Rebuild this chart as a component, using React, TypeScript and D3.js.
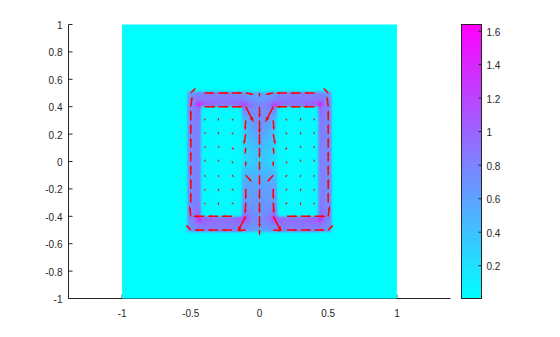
import React, { useMemo } from 'react';
import * as d3 from 'd3';

const W = 560;
const H = 337;

// axis ticks
const xTicks = [-1, -0.5, 0, 0.5, 1];
const yTicks = [-1, -0.8, -0.6, -0.4, -0.2, 0, 0.2, 0.4, 0.6, 0.8, 1];
const cbTicks = [0.2, 0.4, 0.6, 0.8, 1, 1.2, 1.4, 1.6];
const colorMin = 0.004;
const colorMax = 1.64;
const backgroundSpeed = 0.01;

// speed field (pcolor) sampled on a non-uniform grid
const gridX = [-0.56, -0.535, -0.515, -0.47, -0.44, -0.415, -0.3, -0.2, -0.14, -0.115, -0.06, 0, 0.06, 0.115, 0.14, 0.2, 0.3, 0.415, 0.44, 0.47, 0.515, 0.535, 0.56];
const gridY = [0.56, 0.52, 0.5, 0.45, 0.415, 0.39, 0.3, 0.2, 0.1, 0, -0.1, -0.2, -0.3, -0.39, -0.415, -0.46, -0.505, -0.525, -0.56];
const speedRow00 = [0.01, 0.01, 0.01, 0.01, 0.01, 0.01, 0.01, 0.01, 0.01, 0.01, 0.01, 0.01, 0.01, 0.01, 0.01, 0.01, 0.01, 0.01, 0.01, 0.01, 0.01, 0.01, 0.01];
const speedRow01 = [0.01, 0.01, 0.01, 0.01, 0.01, 0.01, 0.01, 0.01, 0.01, 0.01, 0.01, 0.01, 0.01, 0.01, 0.01, 0.01, 0.01, 0.01, 0.01, 0.01, 0.01, 0.01, 0.01];
const speedRow02 = [0.01, 0.01, 0.6, 0.7, 0.75, 0.78, 0.8, 0.78, 0.72, 0.65, 0.55, 0.5, 0.55, 0.65, 0.72, 0.78, 0.8, 0.78, 0.75, 0.7, 0.6, 0.01, 0.01];
const speedRow03 = [0.01, 0.01, 0.72, 0.82, 0.9, 0.9, 0.86, 0.85, 0.85, 0.8, 0.7, 0.65, 0.7, 0.8, 0.85, 0.85, 0.86, 0.9, 0.9, 0.82, 0.72, 0.01, 0.01];
const speedRow04 = [0.01, 0.01, 0.75, 0.9, 1.6, 1.1, 0.95, 0.95, 1.05, 1.25, 0.85, 0.75, 0.85, 1.25, 1.05, 0.95, 0.95, 1.1, 1.6, 0.9, 0.75, 0.01, 0.01];
const speedRow05 = [0.01, 0.01, 0.75, 0.85, 1.0, 0.06, 0.04, 0.04, 0.06, 0.9, 0.78, 0.72, 0.78, 0.9, 0.06, 0.04, 0.04, 0.06, 1.0, 0.85, 0.75, 0.01, 0.01];
const speedRow06 = [0.01, 0.01, 0.72, 0.82, 0.85, 0.05, 0.03, 0.03, 0.05, 0.4, 0.65, 0.75, 0.65, 0.4, 0.05, 0.03, 0.03, 0.05, 0.85, 0.82, 0.72, 0.01, 0.01];
const speedRow07 = [0.01, 0.01, 0.72, 0.8, 0.82, 0.05, 0.03, 0.03, 0.05, 0.3, 0.52, 0.62, 0.52, 0.3, 0.05, 0.03, 0.03, 0.05, 0.82, 0.8, 0.72, 0.01, 0.01];
const speedRow08 = [0.01, 0.01, 0.72, 0.8, 0.82, 0.05, 0.03, 0.03, 0.05, 0.22, 0.38, 0.45, 0.38, 0.22, 0.05, 0.03, 0.03, 0.05, 0.82, 0.8, 0.72, 0.01, 0.01];
const speedRow09 = [0.01, 0.01, 0.72, 0.8, 0.82, 0.05, 0.03, 0.03, 0.05, 0.2, 0.3, 0.35, 0.3, 0.2, 0.05, 0.03, 0.03, 0.05, 0.82, 0.8, 0.72, 0.01, 0.01];
const speedRow10 = [0.01, 0.01, 0.72, 0.8, 0.82, 0.05, 0.03, 0.03, 0.05, 0.45, 0.5, 0.52, 0.5, 0.45, 0.05, 0.03, 0.03, 0.05, 0.82, 0.8, 0.72, 0.01, 0.01];
const speedRow11 = [0.01, 0.01, 0.72, 0.8, 0.82, 0.05, 0.03, 0.03, 0.05, 0.6, 0.62, 0.62, 0.62, 0.6, 0.05, 0.03, 0.03, 0.05, 0.82, 0.8, 0.72, 0.01, 0.01];
const speedRow12 = [0.01, 0.01, 0.72, 0.82, 0.85, 0.05, 0.03, 0.03, 0.05, 0.65, 0.66, 0.66, 0.66, 0.65, 0.05, 0.03, 0.03, 0.05, 0.85, 0.82, 0.72, 0.01, 0.01];
const speedRow13 = [0.01, 0.01, 0.75, 0.85, 1.0, 0.06, 0.04, 0.04, 0.06, 0.95, 0.75, 0.68, 0.75, 0.95, 0.06, 0.04, 0.04, 0.06, 1.0, 0.85, 0.75, 0.01, 0.01];
const speedRow14 = [0.01, 0.01, 0.75, 0.9, 1.5, 1.1, 0.95, 0.95, 1.05, 1.3, 0.82, 0.72, 0.82, 1.3, 1.05, 0.95, 0.95, 1.1, 1.5, 0.9, 0.75, 0.01, 0.01];
const speedRow15 = [0.01, 0.01, 0.72, 0.82, 0.9, 0.9, 0.88, 0.88, 0.88, 0.85, 0.75, 0.7, 0.75, 0.85, 0.88, 0.88, 0.88, 0.9, 0.9, 0.82, 0.72, 0.01, 0.01];
const speedRow16 = [0.01, 0.01, 0.6, 0.7, 0.75, 0.78, 0.8, 0.8, 0.75, 0.7, 0.6, 0.55, 0.6, 0.7, 0.75, 0.8, 0.8, 0.78, 0.75, 0.7, 0.6, 0.01, 0.01];
const speedRow17 = [0.01, 0.01, 0.01, 0.01, 0.01, 0.01, 0.01, 0.01, 0.01, 0.01, 0.01, 0.01, 0.01, 0.01, 0.01, 0.01, 0.01, 0.01, 0.01, 0.01, 0.01, 0.01, 0.01];
const speedRow18 = [0.01, 0.01, 0.01, 0.01, 0.01, 0.01, 0.01, 0.01, 0.01, 0.01, 0.01, 0.01, 0.01, 0.01, 0.01, 0.01, 0.01, 0.01, 0.01, 0.01, 0.01, 0.01, 0.01];
const speed = [speedRow00, speedRow01, speedRow02, speedRow03, speedRow04, speedRow05, speedRow06, speedRow07, speedRow08, speedRow09, speedRow10, speedRow11, speedRow12, speedRow13, speedRow14, speedRow15, speedRow16, speedRow17, speedRow18];

// quiver field on a 0.1 grid
const quiverX = [-0.5, -0.4, -0.3, -0.2, -0.1, 0, 0.1, 0.2, 0.3, 0.4, 0.5];
const quiverY = [0.5, 0.4, 0.3, 0.2, 0.1, 0, -0.1, -0.2, -0.3, -0.4, -0.5];
const quiverU = [
  [0.35, 0.8, 0.85, 0.85, 0.55, 0, -0.55, -0.85, -0.85, -0.8, -0.35],
  [0.1, 0.9, 0.85, 0.85, 0.67, 0, -0.67, -0.85, -0.85, -0.9, -0.1],
  [0, 0.01, 0.01, 0.03, -0.05, 0, 0.05, -0.03, -0.01, -0.01, 0],
  [0, 0.01, 0.01, 0.03, -0.15, 0, 0.15, -0.03, -0.01, -0.01, 0],
  [0, 0.01, 0.01, 0.05, -0.05, 0, 0.05, -0.05, -0.01, -0.01, 0],
  [0, 0.01, 0.01, 0.02, 0, 0, 0, -0.02, -0.01, -0.01, 0],
  [0, 0.01, 0.01, 0.05, 0.45, 0, -0.45, -0.05, -0.01, -0.01, 0],
  [0, 0.01, 0.01, 0.03, 0, 0, 0, -0.03, -0.01, -0.01, 0],
  [0, 0.01, 0.01, 0.03, -0.05, 0, 0.05, -0.03, -0.01, -0.01, 0],
  [-0.1, -0.9, -0.85, -0.85, -0.7, 0, 0.7, 0.85, 0.85, 0.9, 0.1],
  [-0.35, -0.8, -0.85, -0.85, -0.6, 0, 0.6, 0.85, 0.85, 0.8, 0.35],
];
const quiverV = [
  [0.35, 0, 0, 0, -0.1, -0.2, -0.1, 0, 0, 0, 0.35],
  [0.8, 0, 0, 0, -1.33, -0.9, -1.33, 0, 0, 0, 0.8],
  [0.8, 0.04, 0.05, 0.04, -0.75, -1.1, -0.75, 0.04, 0.05, 0.04, 0.8],
  [0.8, 0.03, 0.04, 0.04, -0.8, -0.9, -0.8, 0.04, 0.04, 0.03, 0.8],
  [0.8, 0.02, 0.03, -0.05, -0.45, -0.8, -0.45, -0.05, 0.03, 0.02, 0.8],
  [0.8, 0.03, 0.03, -0.04, -0.3, -0.7, -0.3, -0.04, 0.03, 0.03, 0.8],
  [0.8, -0.02, -0.03, -0.05, -0.5, -0.8, -0.5, -0.05, -0.03, -0.02, 0.8],
  [0.8, -0.03, -0.04, -0.04, -0.8, -0.8, -0.8, -0.04, -0.04, -0.03, 0.8],
  [0.8, -0.04, -0.05, -0.04, -0.85, -0.85, -0.85, -0.04, -0.05, -0.04, 0.8],
  [0.8, 0, 0, 0, -1.3, -0.9, -1.3, 0, 0, 0, 0.8],
  [0.35, 0, 0, 0, -0.05, -0.35, -0.05, 0, 0, 0, 0.35],
];
const arrowScale = 0.075;
const headSize = 0.2;

const FONT = "'Liberation Sans', Arial, Helvetica, sans-serif";

const xScale = d3.scaleLinear().domain([-1.39, 1.39]).range([68.5, 450.5]);
const yScale = d3.scaleLinear().domain([-1, 1]).range([298.5, 24.5]);
const colorScale = d3
  .scaleLinear<string>()
  .domain([colorMin, colorMax])
  .range(['#00ffff', '#ff00ff'])
  .interpolate(d3.interpolateRgb)
  .clamp(true);
const cbScale = d3.scaleLinear().domain([colorMin, colorMax]).range([298.5, 24.5]);
const cbX0 = 461.5;
const cbX1 = 481.5;

function sampleSpeed(x: number, y: number): number {
  const nx = gridX.length;
  const ny = gridY.length;
  if (x <= gridX[0] || x >= gridX[nx - 1] || y >= gridY[0] || y <= gridY[ny - 1]) return backgroundSpeed;
  let i = d3.bisectRight(gridX, x) - 1;
  i = Math.max(0, Math.min(nx - 2, i));
  let j = 0;
  while (j < ny - 2 && gridY[j + 1] > y) j++;
  const tx = (x - gridX[i]) / (gridX[i + 1] - gridX[i]);
  const ty = (gridY[j] - y) / (gridY[j] - gridY[j + 1]);
  const a = speed[j][i];
  const b = speed[j][i + 1];
  const c = speed[j + 1][i];
  const d = speed[j + 1][i + 1];
  return (a * (1 - tx) + b * tx) * (1 - ty) + (c * (1 - tx) + d * tx) * ty;
}

function useFieldImage(): string {
  return useMemo(() => {
    const x0 = xScale(-1);
    const x1 = xScale(1);
    const y0 = yScale(1);
    const y1 = yScale(-1);
    const w = Math.round(x1 - x0);
    const h = Math.round(y1 - y0);
    const canvas = document.createElement('canvas');
    canvas.width = w;
    canvas.height = h;
    const ctx = canvas.getContext('2d');
    if (!ctx) return '';
    const img = ctx.createImageData(w, h);
    const px = d3.scaleLinear().domain([0, w]).range([-1, 1]);
    const py = d3.scaleLinear().domain([0, h]).range([1, -1]);
    for (let r = 0; r < h; r++) {
      const yy = py(r + 0.5);
      for (let c = 0; c < w; c++) {
        const xx = px(c + 0.5);
        const col = d3.rgb(colorScale(sampleSpeed(xx, yy)));
        const k = (r * w + c) * 4;
        img.data[k] = col.r;
        img.data[k + 1] = col.g;
        img.data[k + 2] = col.b;
        img.data[k + 3] = 255;
      }
    }
    ctx.putImageData(img, 0, 0);
    return canvas.toDataURL();
  }, []);
}

function arrowPath(x: number, y: number, u0: number, v0: number): string {
  const u = u0 * arrowScale;
  const v = v0 * arrowScale;
  const xt = x + u * (1 - headSize);
  const yt = y + v * (1 - headSize);
  const p0 = [xScale(x), yScale(y)];
  const tip = [xScale(x + u), yScale(y + v)];
  const h1 = [xScale(xt + (v * headSize) / 3), yScale(yt - (u * headSize) / 3)];
  const h2 = [xScale(xt - (v * headSize) / 3), yScale(yt + (u * headSize) / 3)];
  return `M${p0[0]},${p0[1]}L${tip[0]},${tip[1]}M${h1[0]},${h1[1]}L${tip[0]},${tip[1]}L${h2[0]},${h2[1]}`;
}

export default function App() {
  const href = useFieldImage();
  const gradStops = d3.range(0, 1.0001, 0.1).map((t) => ({
    offset: t,
    color: colorScale(colorMin + t * (colorMax - colorMin)),
  }));
  const arrows: string[] = [];
  quiverY.forEach((qy, j) => {
    quiverX.forEach((qx, i) => {
      const u = quiverU[j][i];
      const v = quiverV[j][i];
      if (u === 0 && v === 0) return;
      arrows.push(arrowPath(qx, qy, u, v));
    });
  });
  const axLeft = xScale.range()[0];
  const axBottom = yScale.range()[0];
  return (
    <svg
      width={W}
      height={H}
      style={{ position: 'absolute', left: 0, top: 0, background: '#fff' }}
      fontFamily={FONT}
      fontSize={10}
    >
      <defs>
        <linearGradient id="cool" x1="0" y1="1" x2="0" y2="0">
          {gradStops.map((s, k) => (
            <stop key={k} offset={s.offset} stopColor={s.color} />
          ))}
        </linearGradient>
      </defs>
      <rect x={0} y={0} width={W} height={H} fill="#fff" />
      {/* axes */}
      <line x1={axLeft} x2={axLeft} y1={yScale(1)} y2={axBottom} stroke="#262626" strokeWidth={1} />
      <line x1={axLeft} x2={xScale.range()[1]} y1={axBottom} y2={axBottom} stroke="#262626" strokeWidth={1} />
      {yTicks.map((t) => (
        <g key={t}>
          <line x1={axLeft} x2={axLeft + 4} y1={yScale(t)} y2={yScale(t)} stroke="#262626" />
          <text x={axLeft - 6} y={yScale(t) + 4.5} textAnchor="end" fill="#262626">
            {String(t)}
          </text>
        </g>
      ))}
      {xTicks.map((t) => (
        <g key={t}>
          <line x1={xScale(t)} x2={xScale(t)} y1={axBottom} y2={axBottom - 4} stroke="#262626" />
          <text x={xScale(t)} y={axBottom + 18.5} textAnchor="middle" fill="#262626">
            {String(t)}
          </text>
        </g>
      ))}
      {/* pcolor field */}
      {href && (
        <image
          href={href}
          x={xScale(-1)}
          y={yScale(1)}
          width={xScale(1) - xScale(-1)}
          height={yScale(-1) - yScale(1)}
          preserveAspectRatio="none"
        />
      )}
      {/* quiver */}
      <g fill="none" stroke="#ff0000" strokeWidth={1.5}>
        {arrows.map((d, k) => (
          <path key={k} d={d} />
        ))}
      </g>
      {/* colorbar */}
      <rect x={cbX0} y={cbScale(colorMax)} width={cbX1 - cbX0} height={cbScale(colorMin) - cbScale(colorMax)} fill="url(#cool)" stroke="#262626" strokeWidth={1} />
      {cbTicks.map((t) => (
        <g key={t}>
          <line x1={cbX1} x2={cbX1 - 3} y1={cbScale(t)} y2={cbScale(t)} stroke="#262626" />
          <text x={cbX1 + 5} y={cbScale(t) + 4.5} textAnchor="start" fill="#262626">
            {String(t)}
          </text>
        </g>
      ))}
    </svg>
  );
}
